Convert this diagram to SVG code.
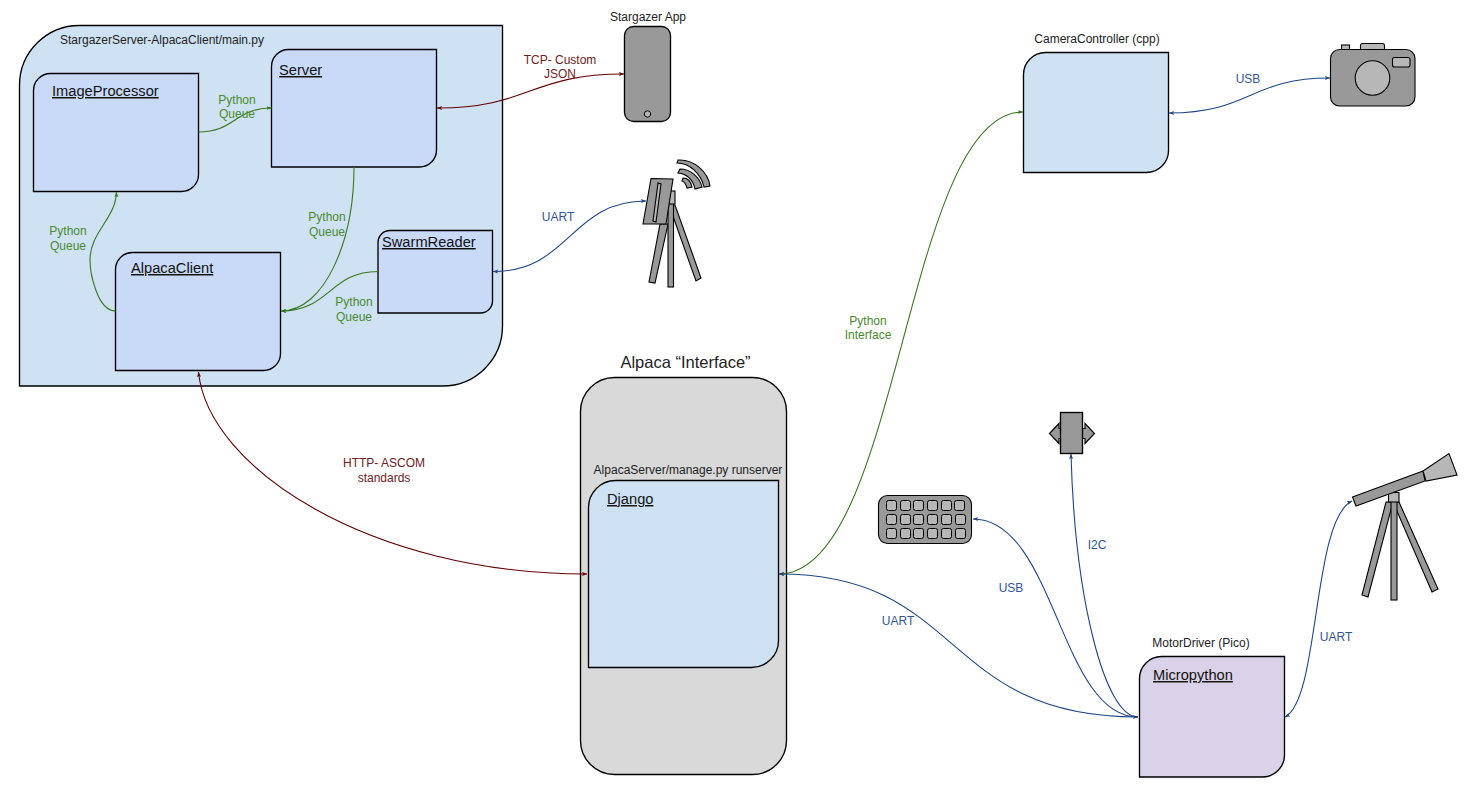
<svg xmlns="http://www.w3.org/2000/svg" width="1474" height="787" viewBox="0 0 1474 787">
<style>
text{font-family:"Liberation Sans",Arial,sans-serif;font-size:12px;fill:#222;text-anchor:middle}
.h{font-size:14.67px;text-decoration:underline;text-anchor:start;fill:#111}
.g{fill:#4a8a2f}.r{fill:#702020}.b{fill:#2f5597}
.s{stroke:#000;stroke-width:1.35}
.i{stroke:#000;stroke-width:1.1}
.lb{fill:#cfe2f3}.mb{fill:#c9daf8}
.d{fill:#999}.l{fill:#b7b7b7}
.c{fill:none;stroke-width:1.1}
.cg{stroke:#38761d}.cr{stroke:#660000}.cb{stroke:#1c4587}
</style>
<defs>
<marker id="ag" markerWidth="7" markerHeight="7" refX="5" refY="3" orient="auto-start-reverse" markerUnits="userSpaceOnUse"><path d="M0,1L5,3L0,5L1,3Z" fill="#38761d"/></marker>
<marker id="ar" markerWidth="7" markerHeight="7" refX="5" refY="3" orient="auto-start-reverse" markerUnits="userSpaceOnUse"><path d="M0,1L5,3L0,5L1,3Z" fill="#660000"/></marker>
<marker id="ab" markerWidth="7" markerHeight="7" refX="5" refY="3" orient="auto-start-reverse" markerUnits="userSpaceOnUse"><path d="M0,1L5,3L0,5L1,3Z" fill="#1c4587"/></marker>
</defs>
<rect width="1474" height="787" fill="#fff"/>
<g id="stargazer-server">
<path class="s lb" d="M79.500 25.500H502.500V326A60 60 0 0 1 442.500 386H19.500V85.500A60 60 0 0 1 79.500 25.500Z"/>
<text x="162" y="44">StargazerServer-AlpacaClient/main.py</text>
</g>
<g id="image-processor">
<path class="s mb" d="M50.500 73.500H198.500V174.500A17 17 0 0 1 181.500 191.500H33.500V90.500A17 17 0 0 1 50.500 73.500Z"/>
<text class="h" x="52" y="96">ImageProcessor</text>
</g>
<g id="server">
<path class="s mb" d="M288.500 49.500H436.500V150A17 17 0 0 1 419.500 167H271.500V66.500A17 17 0 0 1 288.500 49.500Z"/>
<text class="h" x="279" y="75">Server</text>
</g>
<g id="alpaca-client">
<path class="s mb" d="M132.500 252.500H280.500V353.500A17 17 0 0 1 263.500 370.500H115.500V269.500A17 17 0 0 1 132.500 252.500Z"/>
<text class="h" x="131" y="273">AlpacaClient</text>
</g>
<g id="swarm-reader">
<path class="s mb" d="M390 230.500H492.500V301A12 12 0 0 1 480.500 313H378V242.500A12 12 0 0 1 390 230.500Z"/>
<text class="h" x="382" y="247">SwarmReader</text>
</g>
<g id="stargazer-app">
<rect class="s d" x="624.500" y="26.500" width="46" height="95" rx="9"/>
<circle cx="647.500" cy="114" r="3.200" fill="#b7b7b7" stroke="#000" stroke-width="1"/>
<text x="648" y="21">Stargazer App</text>
</g>
<g id="swarm-antenna">
<path class="i d" d="M660 224L668 224L655 283L649 282Z"/>
<path class="i d" d="M669 205L675 205L701 278L696 281Z"/>
<rect class="i d" x="668" y="200" width="5.500" height="87"/>
<rect class="i l" x="669" y="191" width="6" height="13"/>
<path class="i d" d="M651 178.500L673 179L666 224H643Z"/>
<path class="i l" d="M658 183L661 184L656 222L653 221Z"/>
<path class="i d" stroke-width="0.8" d="M677 163L678 160C694 159 708 172 710 186L704 187C701 174 690 163 677 163ZM678 173L680 169C691 169 700 178 702 187L695 189C693 180 687 174 678 173ZM682 181L683 178C688 178 691 182 692 187L687 188C686 184 685 182 682 181Z"/>
</g>
<g id="camera-controller">
<path class="s lb" d="M1045.500 52.500H1168.500V150.500A22 22 0 0 1 1146.500 172.500H1023.500V74.500A22 22 0 0 1 1045.500 52.500Z"/>
<text x="1097" y="43">CameraController (cpp)</text>
</g>
<g id="camera">
<rect class="i l" x="1341.500" y="45" width="8" height="5"/>
<rect class="i l" x="1360.500" y="43.500" width="24" height="8" rx="2"/>
<rect class="i d" x="1330.500" y="49.500" width="84.500" height="56.500" rx="9"/>
<circle class="i l" cx="1372.500" cy="78" r="17.300"/>
<rect class="i l" x="1392.500" y="57.500" width="17.500" height="9.500" rx="2"/>
</g>
<g id="alpaca-interface">
<rect class="s" fill="#d9d9d9" x="580.500" y="377.500" width="206" height="397" rx="34"/>
<text x="685.500" y="368" style="font-size:16.500px">Alpaca “Interface”</text>
<text x="688" y="474">AlpacaServer/manage.py runserver</text>
</g>
<g id="django">
<path class="s lb" d="M615.500 480.500H778.500V640.500A27 27 0 0 1 751.500 667.500H588.500V507.500A27 27 0 0 1 615.500 480.500Z"/>
<text class="h" x="607" y="504">Django</text>
</g>
<g id="keypad">
<rect class="i d" x="878.500" y="495.500" width="93" height="48" rx="9"/>
<g class="l" stroke="#000" stroke-width="1">
<rect x="886.500" y="500.500" width="10" height="10" rx="2"/><rect x="900.500" y="500.500" width="10" height="10" rx="2"/><rect x="913.500" y="500.500" width="10" height="10" rx="2"/><rect x="927.500" y="500.500" width="10" height="10" rx="2"/><rect x="941.500" y="500.500" width="10" height="10" rx="2"/><rect x="954.500" y="500.500" width="10" height="10" rx="2"/>
<rect x="886.500" y="514.500" width="10" height="10" rx="2"/><rect x="900.500" y="514.500" width="10" height="10" rx="2"/><rect x="913.500" y="514.500" width="10" height="10" rx="2"/><rect x="927.500" y="514.500" width="10" height="10" rx="2"/><rect x="941.500" y="514.500" width="10" height="10" rx="2"/><rect x="955.500" y="514.500" width="10" height="10" rx="2"/>
<rect x="886.500" y="528.500" width="10" height="10" rx="2"/><rect x="900.500" y="528.500" width="10" height="10" rx="2"/><rect x="913.500" y="528.500" width="10" height="10" rx="2"/><rect x="927.500" y="528.500" width="10" height="10" rx="2"/><rect x="941.500" y="528.500" width="10" height="10" rx="2"/><rect x="955.500" y="528.500" width="10" height="10" rx="2"/>
</g>
</g>
<g id="i2c-device">
<path class="i d" d="M1049.500 433.500L1059 423.500V428.500H1085V423.500L1094.500 433.500L1085 443.500V438.500H1059V443.500Z"/>
<rect class="s d" x="1060.500" y="412.500" width="22" height="41"/>
</g>
<g id="telescope">
<path class="i d" d="M1386 502L1393 502L1368 597L1362 595Z"/>
<path class="i d" d="M1393 502L1399 502L1438 589L1432 592Z"/>
<rect class="i d" x="1391" y="501" width="6" height="99"/>
<rect class="i l" x="1388.500" y="492.500" width="10.500" height="9.500"/>
<path class="i d" d="M1352.500 497L1423 471L1425 481L1356 506Z"/>
<path class="i l" d="M1423 471L1449 453.500L1457 475L1426 481Z"/>
</g>
<g id="motor-driver">
<path class="s" fill="#d9d2e9" d="M1161.500 656.500H1284.500V755A22 22 0 0 1 1262.500 777H1139.500V678.500A22 22 0 0 1 1161.500 656.500Z"/>
<text x="1201" y="647">MotorDriver (Pico)</text>
<text class="h" x="1153" y="680">Micropython</text>
</g>
<g id="connectors">
<path class="c cg" marker-end="url(#ag)" d="M198.500 132C235 132 235 108 271.500 108"/>
<path class="c cg" marker-end="url(#ag)" d="M354 167C354 240 325 311 281 311"/>
<path class="c cg" marker-end="url(#ag)" d="M378 271.500C330 271.500 330 311 281 311"/>
<path class="c cg" marker-end="url(#ag)" d="M115.500 311C97 311 90 272 90 260C90 232 116 218 116.500 192"/>
<path class="c cr" marker-start="url(#ar)" marker-end="url(#ar)" d="M437 108C530 108 530 74 624 74"/>
<path class="c cb" marker-start="url(#ab)" marker-end="url(#ab)" d="M493 271.500C570 271.500 570 201 646 201"/>
<path class="c cr" marker-start="url(#ar)" marker-end="url(#ar)" d="M198.500 372C208 468 370 574 587 574"/>
<path class="c cg" marker-start="url(#ag)" marker-end="url(#ag)" d="M779 574C900 574 905 112 1023 112"/>
<path class="c cb" marker-start="url(#ab)" marker-end="url(#ab)" d="M1169 113C1250 113 1250 78 1330 78"/>
<path class="c cb" marker-start="url(#ab)" marker-end="url(#ab)" d="M779 574C965 574 940 717 1138 717"/>
<path class="c cb" marker-end="url(#ab)" d="M1138 717C1060 717 1055 519 973 519"/>
<path class="c cb" marker-end="url(#ab)" d="M1138 717C1105 717 1075 600 1071 454"/>
<path class="c cb" marker-start="url(#ab)" marker-end="url(#ab)" d="M1285 717C1320 700 1312 520 1352 501"/>
</g>
<g id="labels">
<text class="g" x="237" y="104">Python</text><text class="g" x="237" y="118">Queue</text>
<text class="g" x="327" y="221">Python</text><text class="g" x="327" y="236">Queue</text>
<text class="g" x="68" y="235">Python</text><text class="g" x="68" y="250">Queue</text>
<text class="g" x="354" y="306">Python</text><text class="g" x="354" y="321">Queue</text>
<text class="r" x="560" y="64">TCP- Custom</text><text class="r" x="560" y="78">JSON</text>
<text class="b" x="558" y="221">UART</text>
<text class="r" x="384" y="467">HTTP- ASCOM</text><text class="r" x="384" y="482">standards</text>
<text class="g" x="868" y="325">Python</text><text class="g" x="868" y="339">Interface</text>
<text class="b" x="1248" y="83">USB</text>
<text class="b" x="898" y="625">UART</text>
<text class="b" x="1011" y="592">USB</text>
<text class="b" x="1097" y="549">I2C</text>
<text class="b" x="1336" y="641">UART</text>
</g>
</svg>
